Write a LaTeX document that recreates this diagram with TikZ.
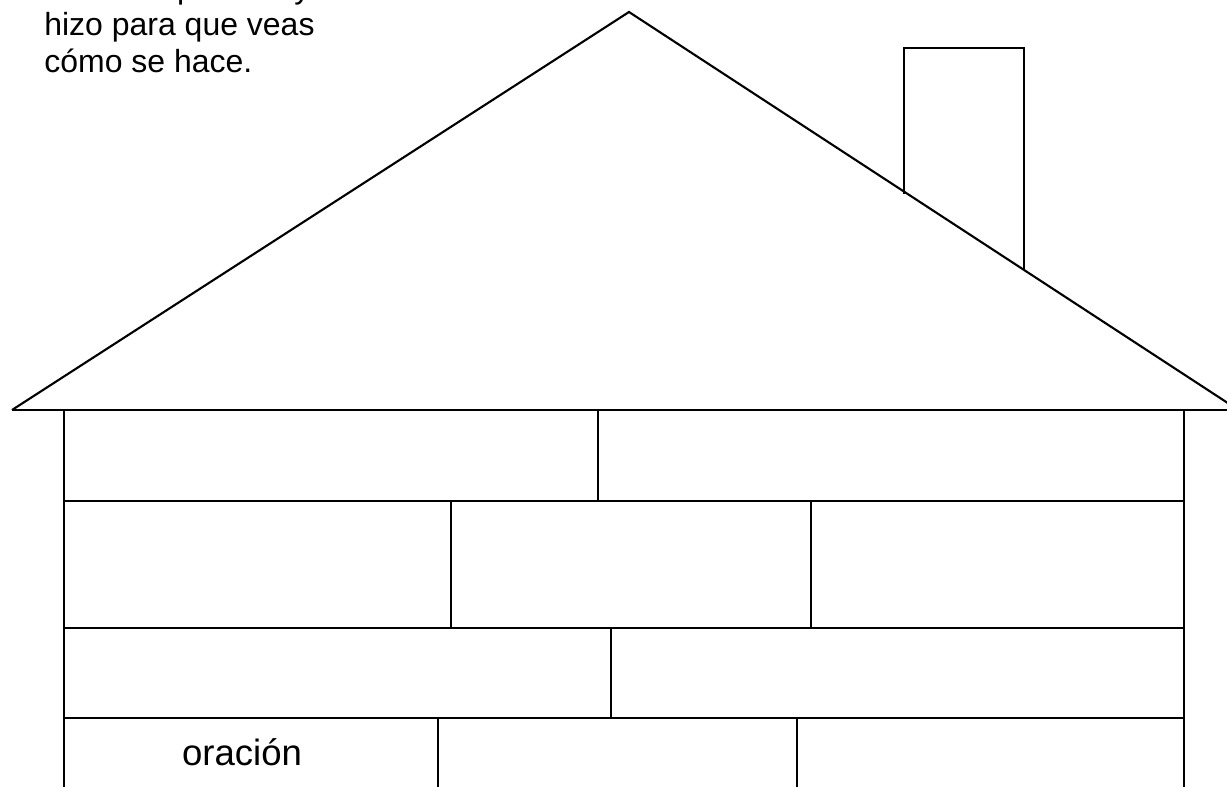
\documentclass[tikz,border=0pt]{standalone}
\usepackage{fontspec}
\setmainfont{Liberation Sans}
\begin{document}
\begin{tikzpicture}[x=0.02cm,y=-0.02cm,
  ln/.style={line width=1.2pt,line join=miter},
  small/.style={font=\fontsize{18.2}{21}\selectfont,inner sep=0pt,anchor=base west},
  big/.style={font=\fontsize{20.8}{24}\selectfont,inner sep=0pt,anchor=base}]
\useasboundingbox (0,0) rectangle (1227,787);
\clip (0,0) rectangle (1227,787);
% text
\node[small] (t1) at (44,-1) {casa. La primera ya se};
\node[small] (t2) at (44,36) {hizo para que veas};
\node[small] (t3) at (44,73) {cómo se hace.};
% roof
\coordinate (apex) at (629,12);
\coordinate (rl) at (12,410);
\coordinate (rr) at (1240,411);
\draw[ln] (rl) -- (apex) -- (rr);
\draw[ln] (rl) -- (1240,410);
% chimney
\draw[ln] (904,194) -- (904,48) -- (1024,48) -- (1024,270);
% walls
\draw[ln] (64,410) -- (64,790);
\draw[ln] (1184,410) -- (1184,790);
% rows
\draw[ln] (64,501) -- (1184,501);
\draw[ln] (64,628) -- (1184,628);
\draw[ln] (64,718) -- (1184,718);
% dividers
\draw[ln] (598,410) -- (598,501);
\draw[ln] (451,501) -- (451,628);
\draw[ln] (811,501) -- (811,628);
\draw[ln] (611,628) -- (611,718);
\draw[ln] (438,718) -- (438,790);
\draw[ln] (797,718) -- (797,790);
\node[big] (word) at (242,765) {oración};
\end{tikzpicture}
\end{document}
